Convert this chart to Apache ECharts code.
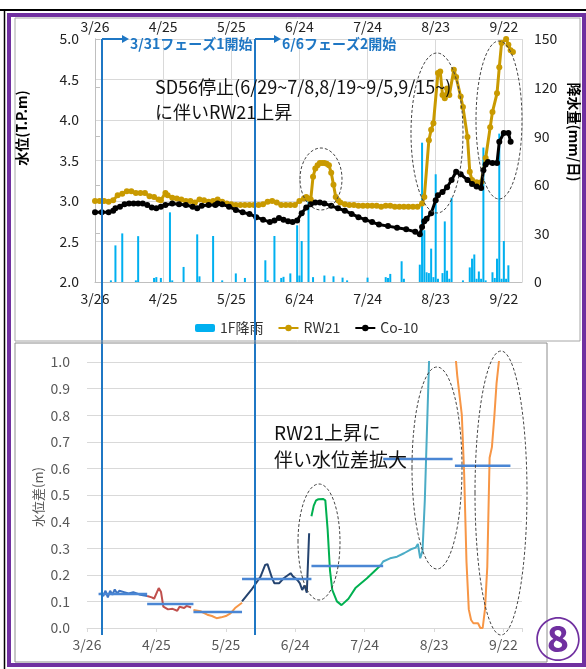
<!DOCTYPE html>
<html><head><meta charset="utf-8">
<script src="https://cdn.jsdelivr.net/npm/echarts@6/dist/echarts.min.js"></script>
<style>html,body{margin:0;padding:0;background:#fff}#c{width:586px;height:669px}</style>
</head><body><div id="c"></div>
<script>
const FONT = '"Noto Sans CJK JP","Noto Sans",sans-serif';
const xTickLabels = ['3/26','4/25','5/25','6/24','7/24','8/23','9/22'];
const levelTicks = [2.0,2.5,3.0,3.5,4.0,4.5,5.0];
const rainTicks = [0,30,60,90,120,150];

// 1F rainfall (mm/day)
const rainfall = [
 ['4/2',1],['4/4',22.6],['4/7',30],['4/13',1],['4/14',28.3],['4/21',2.5],['4/22',3],['4/24',2.5],
 ['4/28',43],['4/29',1],['5/4',9.3],['5/10',29.4],['5/11',3.5],['5/17',28.4],['5/21',1],['5/27',5.3],
 ['5/31',2.5],['6/9',13.4],['6/10',1],['6/13',28.4],['6/16',2.5],['6/17',3.2],['6/20',5.3],['6/23',35],
 ['6/24',4],['6/25',25.3],['6/28',50],['6/30',3],['7/5',4],['7/9',3.5],['7/13',2.7],['7/15',1],['7/24',2.7],
 ['8/1',3],['8/2',2.5],['8/3',5],['8/8',12.8],['8/9',2],['8/16',10.7],['8/17',86],['8/18',32],['8/19',6],
 ['8/20',5.5],['8/21',20.6],['8/22',3],['8/23',66.5],['8/24',2],['8/26',5.5],['8/27',37.4],['8/28',7],
 ['8/29',2],['8/30',52],['9/4',1],['9/7',9],['9/8',14.4],['9/9',17],['9/10',2],['9/11',6.5],['9/12',2],
 ['9/13',83],['9/14',1],['9/17',6],['9/18',2.5],['9/19',14.4],['9/20',91.6],['9/21',2],['9/22',25.3],
 ['9/23',2],['9/24',10.3]
];

// RW21 water level (T.P.m)
const rw21 = [
 ['3/26',3.00],['3/28',3.00],['3/30',3.00],['4/1',2.99],['4/3',3.01],['4/5',3.07],['4/7',3.09],['4/9',3.12],
 ['4/11',3.12],['4/13',3.10],['4/15',3.10],['4/17',3.10],['4/19',3.06],['4/21',3.05],['4/23',3.02],['4/24',3.01],
 ['4/26',3.10],['4/27',3.07],['4/29',3.04],['5/1',3.03],['5/3',3.02],['5/5',3.00],['5/7',3.00],['5/9',2.98],
 ['5/11',3.02],['5/13',3.01],['5/15',2.99],['5/17',3.00],['5/19',3.02],['5/21',2.99],['5/23',2.97],['5/25',2.96],
 ['5/27',2.95],['5/29',2.95],['5/31',2.95],['6/2',2.95],['6/4',2.95],['6/6',2.95],['6/8',2.96],['6/10',2.99],
 ['6/12',3.00],['6/14',2.98],['6/16',2.95],['6/18',2.95],['6/20',2.95],['6/22',2.95],['6/24',3.00],['6/26',3.03],
 ['6/27',3.05],['6/28',3.03],['6/29',3.02],['6/30',3.30],['7/1',3.40],['7/2',3.44],['7/3',3.47],['7/4',3.47],
 ['7/5',3.47],['7/6',3.46],['7/7',3.44],['7/8',3.35],['7/9',3.20],['7/10',3.05],['7/11',3.01],['7/12',2.98],
 ['7/14',2.96],['7/16',2.95],['7/18',2.95],['7/20',2.94],['7/22',2.94],['7/24',2.94],['7/26',2.94],['7/28',2.94],
 ['7/30',2.93],['8/1',2.94],['8/3',2.94],['8/5',2.93],['8/7',2.93],['8/9',2.93],['8/11',2.93],['8/13',2.93],
 ['8/15',2.93],['8/17',2.97],['8/18',3.05],['8/20',3.75],['8/21',3.88],['8/22',3.96],['8/24',4.58],['8/25',4.60],
 ['8/26',4.31],['8/27',4.27],['8/28',4.39],['8/29',4.31],['8/31',4.62],['9/1',4.53],['9/3',4.29],['9/4',4.16],
 ['9/6',3.79],['9/7',3.36],['9/8',3.26],['9/10',3.23],['9/11',3.22],['9/12',3.23],['9/14',3.53],['9/16',3.91],
 ['9/17',4.10],['9/19',4.33],['9/20',4.65],['9/21',4.95],['9/23',5.00],['9/24',4.93],['9/25',4.86],['9/26',4.84]
];

// Co-10 water level (T.P.m)
const co10 = [
 ['3/26',2.86],['3/29',2.86],['4/1',2.86],['4/3',2.88],['4/4',2.91],['4/6',2.93],['4/8',2.96],['4/10',2.97],
 ['4/12',2.97],['4/14',2.97],['4/16',2.97],['4/18',2.95],['4/20',2.92],['4/22',2.91],['4/24',2.93],['4/26',2.95],
 ['4/29',2.97],['5/2',2.96],['5/5',2.95],['5/8',2.93],['5/10',2.91],['5/12',2.94],['5/15',2.95],['5/18',2.95],
 ['5/19',2.97],['5/21',2.96],['5/24',2.93],['5/27',2.89],['5/30',2.86],['6/2',2.84],['6/5',2.80],['6/8',2.77],
 ['6/11',2.74],['6/13',2.76],['6/15',2.79],['6/17',2.77],['6/19',2.75],['6/21',2.74],['6/23',2.76],['6/25',2.85],
 ['6/27',2.92],['6/29',2.96],['7/1',2.98],['7/3',2.98],['7/5',2.97],['7/8',2.94],['7/11',2.91],['7/14',2.88],
 ['7/17',2.84],['7/20',2.80],['7/23',2.77],['7/26',2.74],['7/29',2.71],['8/2',2.69],['8/6',2.67],['8/10',2.65],
 ['8/14',2.62],['8/16',2.59],['8/17',2.68],['8/18',2.75],['8/19',2.78],['8/21',2.85],['8/23',3.01],['8/24',3.07],
 ['8/26',3.11],['8/28',3.17],['8/30',3.26],['9/1',3.36],['9/3',3.33],['9/6',3.26],['9/8',3.21],['9/10',3.18],
 ['9/12',3.16],['9/13',3.38],['9/14',3.45],['9/15',3.48],['9/17',3.47],['9/19',3.47],['9/20',3.73],['9/22',3.84],
 ['9/24',3.84],['9/25',3.73]
];

// water level difference (m), by period
const diffP1 = [['4/1',0.133],['4/2',0.12],['4/3',0.14],['4/4',0.115],['4/5',0.14],['4/6',0.125],['4/7',0.145],['4/8',0.13],
 ['4/9',0.14],['4/11',0.135],['4/13',0.13],['4/15',0.135],['4/18',0.125],['4/21',0.12]];
const diffP2 = [['4/21',0.12],['4/23',0.115],['4/24',0.11],['4/26',0.15],['4/27',0.135],['4/28',0.08],['4/30',0.07],
 ['5/2',0.072],['5/4',0.065],['5/5',0.08],['5/7',0.075],['5/8',0.083],['5/10',0.077]];
const diffP3 = [['5/11',0.068],['5/14',0.063],['5/17',0.05],['5/19',0.045],['5/21',0.037],['5/23',0.04],['5/25',0.045],
 ['5/27',0.055],['5/29',0.075],['6/1',0.095]];
const diffP4 = [['6/1',0.10],['6/5',0.143],['6/9',0.193],['6/11',0.237],['6/12',0.24],['6/14',0.187],['6/15',0.168],
 ['6/17',0.168],['6/19',0.187],['6/22',0.206],['6/23',0.194],['6/25',0.18],['6/26',0.168],['6/27',0.143],['6/28',0.16],
 ['6/29',0.133],['6/30',0.356]];
const diffP5 = [['7/1',0.42],['7/2',0.46],['7/3',0.48],['7/4',0.484],['7/6',0.485],['7/7',0.48],['7/8',0.37],['7/9',0.218],
 ['7/10',0.143],['7/12',0.10],['7/14',0.086],['7/17',0.11],['7/20',0.15],['7/25',0.187],['7/29',0.22],['7/31',0.237]];
const diffP6 = [['7/31',0.237],['8/1',0.25],['8/4',0.262],['8/7',0.268],['8/10',0.281],['8/13',0.296],['8/15',0.302],
 ['8/16',0.316],['8/17',0.262],['8/18',0.29],['8/19',0.48],['8/21',1.05]];
const diffP7 = [['9/1',1.05],['9/2',0.95],['9/4',0.80],['9/5',0.58],['9/6',0.25],['9/7',0.07],['9/8',0.03],['9/9',0.018],
 ['9/11',0.018],['9/12',0.0],['9/13',0.0],['9/14',0.07],['9/15',0.23],['9/16',0.64],['9/17',0.68],['9/18',0.79],
 ['9/19',0.92],['9/20',1.0],['9/21',1.05]];
// period means (start, end, value)
const periodMeans = [
 ['3/31','4/21',0.128],['4/21','5/11',0.09],['5/11','6/1',0.06],['6/1','7/1',0.184],
 ['7/1','8/1',0.233],['8/1','8/31',0.635],['9/1','9/25',0.61]
];
const diffColors = ['#3d74c2','#c0504d','#f79646','#24436f','#00b050','#4bacc6','#f79646'];

function dayOf(s){const p=s.split('/').map(Number);return Math.round((Date.UTC(2021,p[0]-1,p[1])-Date.UTC(2021,2,26))/86400000);}
const conv = arr => arr.map(r => [dayOf(r[0]), r[1]]);
const tickDays = xTickLabels.map(dayOf);
const xFmt = v => { const i = tickDays.indexOf(Math.round(v)); return i >= 0 ? xTickLabels[i] : ''; };

const chart = echarts.init(document.getElementById('c'), null, {renderer:'canvas'});

const diffSeries = [diffP1,diffP2,diffP3,diffP4,diffP5,diffP6,diffP7].map((d,i)=>({
  type:'line', xAxisIndex:2, yAxisIndex:2, data:conv(d), showSymbol:false, symbol:'none',
  lineStyle:{color:diffColors[i], width:2}, itemStyle:{color:diffColors[i]}, silent:true, z:3
}));
const meanSeries = periodMeans.map(m=>({
  type:'line', xAxisIndex:2, yAxisIndex:2, data:[[dayOf(m[0]),m[2]],[dayOf(m[1]),m[2]]],
  showSymbol:false, symbol:'none', lineStyle:{color:'#4a86d4', width:2.5}, silent:true, z:4
}));

const ell = (cx,cy,rx,ry)=>({type:'ellipse', shape:{cx,cy,rx,ry}, style:{fill:null, stroke:'#444', lineWidth:1, lineDash:[3,2]}, z:50});
const blue = '#1f77c4';

chart.setOption({
  animation:false,
  textStyle:{fontFamily:FONT},
  grid:[
    {left:95, right:64, top:39, bottom:387},
    {left:87, right:64, top:362, bottom:41}
  ],
  legend:{
    data:['1F降雨','RW21','Co-10'], left:190, top:316, itemGap:14, itemWidth:20, itemHeight:8,
    textStyle:{fontSize:14, color:'#333', fontFamily:FONT}
  },
  xAxis:[
    {type:'value', gridIndex:0, position:'bottom', min:0, max:188, interval:30,
     axisLine:{show:true, lineStyle:{color:'#bfbfbf'}}, axisTick:{show:false},
     splitLine:{show:true, lineStyle:{color:'#d9d9d9'}},
     axisLabel:{formatter:xFmt, fontSize:14, color:'#222', margin:10}},
    {type:'value', gridIndex:0, position:'top', min:0, max:188, interval:30,
     axisLine:{show:false}, axisTick:{show:false}, splitLine:{show:false},
     axisLabel:{formatter:xFmt, fontSize:14, color:'#222', margin:5}},
    {type:'value', gridIndex:1, position:'bottom', min:0, max:188, interval:30,
     axisLine:{show:true, lineStyle:{color:'#d9d9d9'}}, axisTick:{show:true, length:4, lineStyle:{color:'#d9d9d9'}},
     splitLine:{show:false},
     axisLabel:{formatter:xFmt, fontSize:14, color:'#595959', margin:10}}
  ],
  yAxis:[
    {type:'value', gridIndex:0, min:2, max:5, interval:0.5,
     axisLine:{show:true, lineStyle:{color:'#bfbfbf'}}, axisTick:{show:false},
     splitLine:{show:true, lineStyle:{color:'#d9d9d9'}},
     axisLabel:{formatter:v=>levelTicks.includes(+v.toFixed(1))?v.toFixed(1):'', fontSize:14, color:'#222', margin:16}},
    {type:'value', gridIndex:0, position:'right', min:0, max:150, interval:30,
     axisLine:{show:true, lineStyle:{color:'#bfbfbf'}}, axisTick:{show:true, length:5, lineStyle:{color:'#bfbfbf'}},
     splitLine:{show:false},
     axisLabel:{formatter:v=>rainTicks.includes(v)?String(v):'', fontSize:14, color:'#222', margin:12}},
    {type:'value', gridIndex:1, min:0, max:1, interval:0.1,
     axisLine:{show:false}, axisTick:{show:false},
     splitLine:{show:true, lineStyle:{color:'#d9d9d9'}},
     axisLabel:{formatter:v=>v.toFixed(1), fontSize:14, color:'#595959', margin:17}}
  ],
  series:[
    {name:'1F降雨', type:'bar', xAxisIndex:0, yAxisIndex:1, data:conv(rainfall), barWidth:2,
     itemStyle:{color:'#00b0f0'}, z:2, silent:true},
    {name:'RW21', type:'line', xAxisIndex:0, yAxisIndex:0, data:conv(rw21), symbol:'circle', symbolSize:6,
     lineStyle:{color:'#c99a00', width:3}, itemStyle:{color:'#c99a00'}, z:3, silent:true},
    {name:'Co-10', type:'line', xAxisIndex:0, yAxisIndex:0, data:conv(co10), symbol:'circle', symbolSize:6,
     lineStyle:{color:'#000', width:3}, itemStyle:{color:'#000'}, z:4, silent:true},
    ...diffSeries, ...meanSeries
  ],
  graphic:[
    {type:'line', shape:{x1:0,y1:10,x2:586,y2:10}, style:{stroke:'#000', lineWidth:2}, z:60},
    {type:'line', shape:{x1:4.5,y1:10,x2:4.5,y2:669}, style:{stroke:'#000', lineWidth:1.5}, z:60},
    {type:'rect', shape:{x:9,y:15,width:575,height:650}, style:{fill:null, stroke:'#7030a0', lineWidth:4}, z:60},
    {type:'rect', shape:{x:15,y:18,width:565,height:323}, style:{fill:null, stroke:'#a6a6a6', lineWidth:1}, z:60},
    {type:'rect', shape:{x:15,y:343,width:532,height:319}, style:{fill:null, stroke:'#8c8c8c', lineWidth:1}, z:60},
    // axis names
    {type:'text', x:22, y:128, rotation:Math.PI/2, style:{text:'水位(T.P.m)', font:'bold 14px '+FONT, fill:'#000', align:'center', verticalAlign:'middle'}, z:60},
    {type:'text', x:574, y:132, rotation:-Math.PI/2, style:{text:'降水量(mm/日)', font:'bold 14px '+FONT, fill:'#000', align:'center', verticalAlign:'middle'}, z:60},
    {type:'text', x:38, y:497, rotation:Math.PI/2, style:{text:'水位差(m)', font:'13px '+FONT, fill:'#595959', align:'center', verticalAlign:'middle'}, z:60},
    // phase lines
    {type:'line', shape:{x1:102,y1:39,x2:102,y2:635}, style:{stroke:blue, lineWidth:2}, z:55},
    {type:'line', shape:{x1:255,y1:39,x2:255,y2:635}, style:{stroke:blue, lineWidth:2}, z:55},
    {type:'line', shape:{x1:102,y1:39,x2:124,y2:39}, style:{stroke:blue, lineWidth:2}, z:55},
    {type:'polygon', shape:{points:[[129,39],[122,35],[122,43]]}, style:{fill:blue}, z:55},
    {type:'line', shape:{x1:255,y1:39,x2:276,y2:39}, style:{stroke:blue, lineWidth:2}, z:55},
    {type:'polygon', shape:{points:[[281,39],[274,35],[274,43]]}, style:{fill:blue}, z:55},
    {type:'text', x:130, y:44, style:{text:'3/31フェーズ1開始', font:'bold 14px '+FONT, fill:'#1f77c4', verticalAlign:'middle'}, z:56},
    {type:'text', x:282, y:44, style:{text:'6/6フェーズ2開始', font:'bold 14px '+FONT, fill:'#1f77c4', verticalAlign:'middle'}, z:56},
    // annotations
    {type:'text', x:155, y:87, style:{text:'SD56停止(6/29~7/8,8/19~9/5,9/15~)', font:'18px '+FONT, fill:'#111', verticalAlign:'middle'}, z:56},
    {type:'text', x:155, y:112, style:{text:'に伴いRW21上昇', font:'18px '+FONT, fill:'#111', verticalAlign:'middle'}, z:56},
    {type:'text', x:274, y:433, style:{text:'RW21上昇に', font:'19px '+FONT, fill:'#111', verticalAlign:'middle'}, z:56},
    {type:'text', x:274, y:460, style:{text:'伴い水位差拡大', font:'19px '+FONT, fill:'#111', verticalAlign:'middle'}, z:56},
    // ellipses
    ell(321,179,21,31), ell(437,133,26,80), ell(499,120,23,79),
    ell(319,542,21,58), ell(437,468,25,101), ell(501,493,26,142),
    // circled number
    {type:'text', x:558, y:639, style:{text:'⑧', font:'bold 46px '+FONT, fill:'#7030a0', align:'center', verticalAlign:'middle'}, z:60}
  ]
});
</script>
</body></html>
